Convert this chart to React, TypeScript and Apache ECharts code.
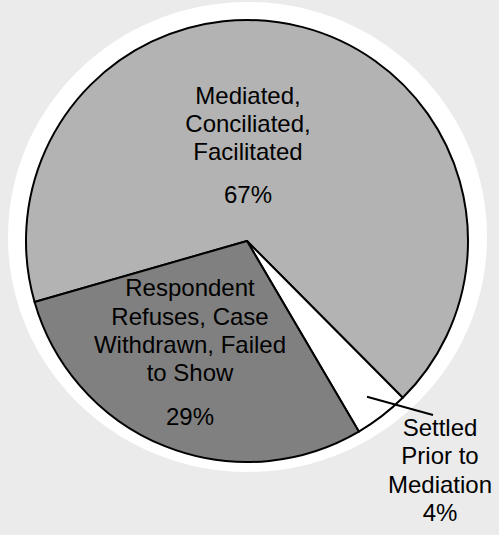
import React, { useEffect, useRef } from "react";
import * as echarts from "echarts";

// Slice categories (clockwise from the left boundary), values in percent
const categories = [
  "Mediated,\nConciliated,\nFacilitated",
  "Settled\nPrior to\nMediation",
  "Respondent\nRefuses, Case\nWithdrawn, Failed\nto Show",
];
const shares = [67, 4, 29];
const sliceColors = ["#b3b3b3", "#ffffff", "#808080"];

const FONT = "'Liberation Sans', Arial, Helvetica, sans-serif";

export default function App() {
  const ref = useRef<HTMLDivElement>(null);

  useEffect(() => {
    if (!ref.current) return;
    const chart = echarts.init(ref.current, undefined, { renderer: "svg" });
    const cx = 247;
    const cy = 241;
    const r = 221;
    const startAngle = 196;

    const total = shares.reduce((a, b) => a + b, 0);
    // mid-angle of the "Settled" slice (index 1): leader line starts inside it
    const midDeg = startAngle - ((shares[0] + shares[1] / 2) / total) * 360;
    const midRad = (midDeg * Math.PI) / 180;

    // label anchor positions (text block centres)
    const labelPos: Record<number, [number, number]> = {
      0: [248, 145],
      1: [440, 470],
      2: [190, 352],
    };

    const leadStart = [cx + 0.89 * r * Math.cos(midRad), cy - 0.89 * r * Math.sin(midRad)];
    const leadEnd = [labelPos[1][0] - 7, labelPos[1][1] - 55];

    const data = categories.map((name, i) => ({
      name,
      value: shares[i],
      itemStyle: { color: sliceColors[i] },
      label: { position: i === 1 ? "outside" : "inside" },
      labelLine: { show: false },
    }));

    chart.setOption({
      animation: false,
      backgroundColor: "#ebebeb",
      graphic: {
        elements: [
          {
            type: "ellipse",
            z: 0,
            silent: true,
            shape: { cx: 247.5, cy: 237, rx: 239.5, ry: 235 },
            style: { fill: "#ffffff" },
          },
          {
            type: "line",
            z: 100,
            silent: true,
            shape: { x1: leadStart[0], y1: leadStart[1], x2: leadEnd[0], y2: leadEnd[1] },
            style: { stroke: "#000000", lineWidth: 2 },
          },
        ],
      },
      series: [
        {
          type: "pie",
          z: 2,
          center: [cx, cy],
          radius: r,
          startAngle,
          clockwise: true,
          silent: true,
          avoidLabelOverlap: false,
          itemStyle: { borderColor: "#000000", borderWidth: 2 },
          label: {
            show: true,
            color: "#000000",
            fontFamily: FONT,
            fontSize: 24,
            align: "center",
            formatter: (p: any) => {
              const pct = Math.round(p.percent) + "%";
              const lines = String(p.name)
                .split("\n")
                .map((l: string) => `{t|${l}}`)
                .join("\n");
              if (p.dataIndex === 1) return `${lines}\n{t|${pct}}`;
              return `${lines}\n{g| }\n{t|${pct}}`;
            },
            rich: {
              t: {
                fontFamily: FONT,
                fontSize: 24,
                lineHeight: 28.3,
                color: "#000000",
                align: "center",
              },
              g: { fontSize: 12, lineHeight: 15, align: "center" },
            },
          },
          labelLine: { show: false },
          labelLayout: (params: any) => {
            const pos = labelPos[params.dataIndex];
            return {
              x: pos[0],
              y: pos[1],
              align: "center",
              verticalAlign: "middle",
            };
          },
          data,
        },
      ],
    });
    return () => chart.dispose();
  }, []);

  return (
    <div
      ref={ref}
      style={{ position: "fixed", left: 0, top: 0, width: 499, height: 535 }}
    />
  );
}
